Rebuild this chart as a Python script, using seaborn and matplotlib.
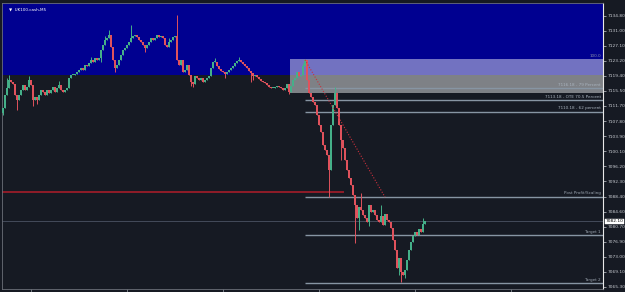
import numpy as np
import pandas as pd
import matplotlib
matplotlib.use("Agg")
import matplotlib.pyplot as plt
import seaborn as sns

# ---------------- data ----------------
closes = [
    7111.1, 7114.5, 7116.3, 7118.3, 7117.8, 7117.3, 7114.5, 7113.2, 7114.5, 7115.8,
    7117.0, 7115.8, 7116.5, 7118.3, 7117.0, 7113.2, 7114.0, 7113.2, 7114.5, 7115.8,
    7115.2, 7114.5, 7115.8, 7115.0, 7115.8, 7116.5, 7115.2, 7116.3, 7117.0, 7115.8,
    7115.2, 7115.8, 7116.3, 7118.8, 7119.6, 7119.6, 7119.9, 7120.4, 7120.9, 7121.4,
    7120.9, 7122.2, 7121.9, 7122.7, 7123.5, 7122.9, 7124.0, 7123.5, 7124.0, 7126.0,
    7127.3, 7128.6, 7129.1, 7129.9, 7126.8, 7123.5, 7121.4, 7122.2, 7123.5, 7124.7,
    7126.0, 7126.5, 7127.3, 7128.1, 7129.1, 7129.6, 7129.9, 7129.3, 7128.6, 7128.1,
    7127.3, 7126.5, 7127.3, 7128.1, 7129.1, 7128.6, 7129.1, 7129.9, 7129.3, 7129.6,
    7129.1, 7127.3, 7126.8, 7128.1, 7128.6, 7129.3, 7129.6, 7123.5, 7122.2, 7123.5,
    7120.4, 7120.9, 7122.2, 7119.6, 7117.8, 7117.3, 7119.3, 7118.8, 7118.3, 7118.8,
    7117.8, 7118.3, 7118.8, 7119.3, 7121.4, 7122.9, 7122.9, 7121.9, 7121.1, 7120.6,
    7120.4, 7119.9, 7120.4, 7120.9, 7121.4, 7121.9, 7122.7, 7123.2, 7123.5, 7122.9,
    7122.4, 7121.9, 7121.4, 7120.6, 7120.1, 7119.3, 7119.6, 7119.1, 7118.6, 7118.1,
    7117.8, 7117.6, 7117.0, 7116.5, 7116.3, 7116.3, 7116.5, 7116.8, 7116.5, 7116.3,
    7115.8, 7116.3, 7117.3, 7115.2, 7116.8, 7118.3, 7118.8, 7120.4, 7119.3, 7119.6,
    7121.9, 7123.5, 7118.3, 7115.0, 7114.0, 7112.7, 7111.9, 7109.3, 7106.8, 7105.0,
    7101.7, 7100.4, 7099.1, 7095.2, 7106.8, 7111.9, 7115.0, 7111.1, 7106.8, 7102.9,
    7100.9, 7097.8, 7095.2, 7093.2, 7091.4, 7088.8, 7086.3, 7082.9, 7085.8, 7085.0,
    7083.7, 7082.9, 7081.9, 7086.3, 7084.5, 7085.0, 7083.7, 7082.4, 7081.9, 7083.5,
    7081.1, 7084.0, 7082.4, 7081.9, 7080.4, 7077.3, 7074.7, 7070.1, 7072.7, 7069.1,
    7068.3, 7069.6, 7072.2, 7074.7, 7076.8, 7078.3, 7079.4, 7078.6, 7080.1, 7079.4,
    7081.4, 7082.2,
]
first_open = 7109.8
spike_high = {64: 7132.4, 87: 7135.0, 106: 7123.9, 118: 7124.2, 151: 7123.7,
              166: 7116.5, 179: 7089.3, 13: 7119.3, 53: 7131.1, 2: 7118.8,
              3: 7119.6, 28: 7118.0, 44: 7124.2, 51: 7129.6, 83: 7129.1,
              150: 7122.7, 169: 7104.5, 189: 7086.3, 210: 7083.0}
spike_low = {0: 7109.3, 15: 7111.6, 95: 7116.5, 111: 7118.8, 125: 7118.3,
             163: 7088.3, 176: 7076.5, 178: 7079.9, 198: 7068.3, 199: 7066.5,
             56: 7120.4, 7: 7110.6, 17: 7112.2, 49: 7122.9, 71: 7125.5,
             94: 7116.8, 124: 7117.8, 143: 7114.6, 169: 7097.8, 183: 7080.9,
             201: 7067.6, 205: 7077.0}

tick_vals = [7134.80, 7131.00, 7127.10, 7123.20, 7119.40, 7115.50, 7111.70,
             7107.80, 7103.90, 7100.10, 7096.20, 7092.30, 7088.40, 7084.60,
             7080.70, 7076.90, 7073.00, 7069.10, 7065.30]
tick_labels = ["7134.80", "7131.00", "7127.10", "7123.20", "7119.40", "7115.50",
               "7111.70", "7107.80", "7103.90", "7100.10", "7096.20", "7092.30",
               "7088.40", "7084.60", "7080.70", "7076.90", "7073.00", "7069.10",
               "7065.30"]

symbol_title = "UK100.cash,M5"
current_price = 7082.10
zone_top = 7119.6               # upper (blue) zone boundary
fib_box = (7115.0, 7123.7)      # fib rectangle low / high
fib_levels = [7116.18, 7113.18, 7110.18]
fib_texts = ["7116.18 - 79 Percent", "7113.18 - OTE 70.5 Percent", "7110.18 - 62 percent"]
target_levels = [7088.4, 7078.6, 7066.3]
target_texts = ["Post Profit/Scaling", "Target 1", "Target 2"]
red_level = 7089.6
swing_line = [(151, 7123.5), (191, 7088.3)]

# ---------------- build OHLC table ----------------
opens = [first_open] + closes[:-1]
df = pd.DataFrame({"open": opens, "close": closes})
df["idx"] = np.arange(len(df))
df["high"] = df[["open", "close"]].max(axis=1)
df["low"] = df[["open", "close"]].min(axis=1)
for k, v in spike_high.items():
    df.loc[k, "high"] = max(df.loc[k, "high"], v)
for k, v in spike_low.items():
    df.loc[k, "low"] = min(df.loc[k, "low"], v)
df["up"] = df["close"] >= df["open"]

# ---------------- style ----------------
sns.set_theme(style="dark")
plt.rcParams["font.family"] = ["DejaVu Sans"]
BG = "#161a23"
BLUE = "#000090"
GREEN = "#45b089"
RED = "#e0525c"
LINE = "#8795a3"
TXT = "#c9ccd2"

fig = plt.figure(figsize=(6.25, 2.92), dpi=100, facecolor=BG)
ax = fig.add_axes([2 / 625, 3 / 292, 601 / 625, 286 / 292])
ax.set_facecolor(BG)
XMAX = 300
ax.set_xlim(-0.5, XMAX)
ax.set_ylim(7064.73, 7138.06)

# zones
ax.axhspan(zone_top, 7140, color=BLUE, zorder=0, lw=0)
ax.fill_between([143.5, XMAX], fib_box[0], fib_box[1], color="white", alpha=0.45,
                zorder=1, lw=0)

# current price line
ax.axhline(current_price, color="#4b5363", lw=0.6, zorder=1)

# candles
colors = np.where(df["up"], GREEN, RED)
ax.vlines(df["idx"], df["low"], df["high"], colors=colors, lw=0.7, zorder=3)
body = (df["close"] - df["open"]).abs().clip(lower=0.25)
ax.bar(df["idx"], body, bottom=df[["open", "close"]].min(axis=1), width=0.75,
       color=colors, lw=0, zorder=3)

# fib lines + labels
for lvl, t in zip(fib_levels, fib_texts):
    ax.hlines(lvl, 151, XMAX, color=LINE, lw=1.0, zorder=2)
    ax.text(299, lvl + 0.35, t, color="#a9b3be", fontsize=3.0, ha="right",
            va="bottom", zorder=4)
ax.text(299, fib_box[1] + 0.3, "100.0", color="#8b93a8", fontsize=3.0, ha="right",
        va="bottom", zorder=4)
for lvl, t in zip(target_levels, target_texts):
    ax.hlines(lvl, 151, XMAX, color=LINE, lw=1.0, zorder=2)
    ax.text(299, lvl + 0.35, t, color="#9aa4af", fontsize=3.0, ha="right",
            va="bottom", zorder=4)

# red level + dotted swing line
ax.hlines(red_level, -0.5, 170.5, color="#b11d2a", lw=1.1, zorder=2)
ax.plot([p[0] for p in swing_line], [p[1] for p in swing_line], color="#c8303c",
        lw=0.8, ls=(0, (1, 1.5)), zorder=4)

# axes styling
ax.yaxis.tick_right()
ax.set_yticks(tick_vals)
ax.set_yticklabels(tick_labels)
ax.tick_params(axis="y", colors=TXT, labelsize=3.2, length=2, width=0.5, pad=1.5,
               direction="out", right=True, left=False)
ax.set_xticks(np.arange(14, XMAX, 48))
ax.tick_params(axis="x", colors="#9aa0a8", length=2, width=0.5, labelbottom=False,
               bottom=True, direction="out")
ax.grid(False)
for s in ["left", "top", "bottom"]:
    ax.spines[s].set_color("#6b7078")
    ax.spines[s].set_linewidth(0.6)
ax.spines["right"].set_color("#e8e8e8")
ax.spines["right"].set_linewidth(0.8)

# current price box
ax.text(1.004, (current_price - 7064.73) / (7138.06 - 7064.73), "7082.10",
        transform=ax.transAxes, fontsize=3.2, color="black", ha="left", va="center",
        bbox=dict(boxstyle="square,pad=0.15", fc="white", ec="white", lw=0.3),
        zorder=6, clip_on=False)

# title
ax.text(0.012, 0.985, "\u25bc  " + symbol_title, transform=ax.transAxes, color="white",
        fontsize=3.0, ha="left", va="top", zorder=6)

fig.savefig("out.png", dpi=100, facecolor=BG)
